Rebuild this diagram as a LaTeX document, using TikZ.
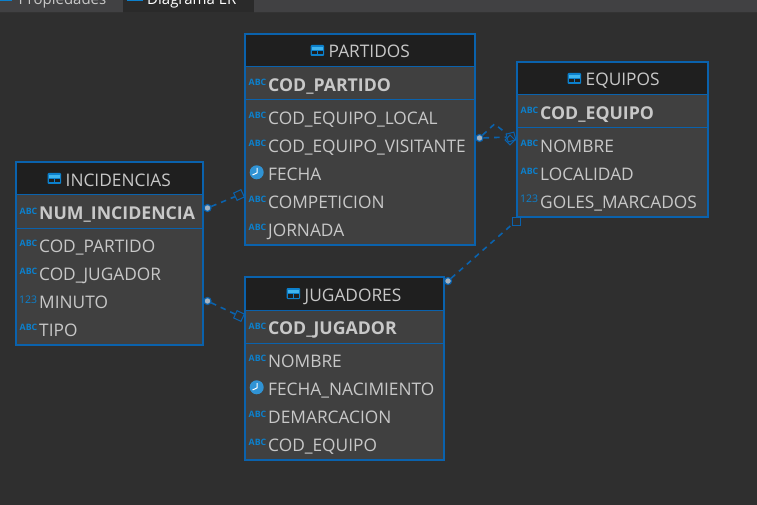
\documentclass[tikz,border=0pt]{standalone}
\usepackage{fontspec}
\setmainfont{Open Sans}
\definecolor{bgc}{HTML}{2F2F2F}
\definecolor{barc}{HTML}{414143}
\definecolor{tabc}{HTML}{2A2A2A}
\definecolor{boxc}{HTML}{404040}
\definecolor{headc}{HTML}{1F1F1F}
\definecolor{linec}{HTML}{0A62AD}
\definecolor{iconc}{HTML}{0C80CC}
\definecolor{textc}{HTML}{C8C8C8}
\definecolor{cellc}{HTML}{3FB4EE}
\definecolor{dotc}{HTML}{A4B2C0}
\tikzset{
  tablebody/.style={draw=linec,line width=2pt,fill=boxc,inner sep=0pt,outer sep=0pt,anchor=north west},
  headbar/.style={fill=headc,inner sep=0pt,outer sep=0pt,anchor=north west},
  rowtext/.style={text=textc,inner sep=0pt,anchor=base west,font=\fontsize{17.3}{20}\selectfont},
  pktext/.style={rowtext,font=\fontsize{17.7}{20}\selectfont\bfseries},
  titletext/.style={rowtext,anchor=base west},
  abcicon/.style={text=iconc,inner sep=0pt,anchor=base west,font=\fontsize{8.8}{9}\selectfont\bfseries},
  numicon/.style={text=iconc,inner sep=0pt,anchor=base west,font=\fontsize{10.5}{11}\selectfont},
  clockicon/.style={circle,fill=iconc!85!white,minimum size=14pt,inner sep=0pt},
  reltail/.style={circle,fill=dotc,draw=linec,line width=1.2pt,minimum size=7pt,inner sep=0pt},
  relhead/.style={draw=linec,line width=1pt,minimum size=8pt,inner sep=0pt},
  relline/.style={draw=linec,line width=1.6pt,dash pattern=on 5.5pt off 5pt},
  tabtext/.style={inner sep=0pt,anchor=base west,font=\fontsize{15}{18}\selectfont},
}
% x1 y1 x2 y2 name title pk
\newcommand{\erbox}[7]{%
  \pgfmathsetlengthmacro{\bw}{(#3-#1)*1pt}%
  \pgfmathsetlengthmacro{\bh}{(#4-#2)*1pt}%
  \pgfmathsetlengthmacro{\hw}{(#3-#1-2)*1pt}%
  \node[tablebody,minimum width=\bw,minimum height=\bh] (#5) at (#1,#2) {};
  \node[headbar,minimum width=\hw,minimum height=32pt] (#5-head) at (#1+1,#2+1) {};
  \draw[linec,line width=1pt] (#1,#2+33) -- (#3,#2+33);
  \draw[linec,line width=1pt] (#1,#2+66) -- (#3,#2+66);
  \node[abcicon] (#5-pkicon) at (#1+3.5,#2+52) {ABC};
  \node[pktext] (#5-pk) at (#1+23,#2+57.8) {#7};
}
\newcommand{\ertitle}[4]{% name xicon y title
  \fill[iconc,rounded corners=1pt] (#2,#3-5.5) rectangle (#2+13.5,#3+5.5);
  \fill[cellc] (#2+1,#3-3.5) rectangle (#2+12.5,#3-.5);
  \fill[headc] (#2+1,#3+.5) rectangle (#2+6.2,#3+4);
  \fill[headc] (#2+7.2,#3+.5) rectangle (#2+12.5,#3+4);
  \node[titletext] (#1-title) at (#2+18,#3+7.5) {#4};
}
\newcommand{\abcrow}[4]{% name x y text
  \node[abcicon] (#1-icon) at (#2+3.5,#3+.5) {ABC};
  \node[rowtext] (#1) at (#2+23,#3+6.5) {#4};
}
\newcommand{\numrow}[4]{%
  \node[numicon] (#1-icon) at (#2+3,#3+1) {123};
  \node[rowtext] (#1) at (#2+23,#3+6.5) {#4};
}
\newcommand{\clockrow}[4]{%
  \node[clockicon] (#1-icon) at (#2+11.7,#3-1.7) {};
  \draw[white,line width=1pt] (#2+12.2,#3-6) -- (#2+12.2,#3-1.2) -- (#2+7.5,#3+1);
  \node[rowtext] (#1) at (#2+23,#3+6.5) {#4};
}
\begin{document}
\begin{tikzpicture}[x=1pt,y=-1pt]
\useasboundingbox (0,0) rectangle (757,505);
\fill[bgc] (0,0) rectangle (757,505);
% tab bar
\fill[barc] (0,0) rectangle (757,12);
\fill[tabc] (123,0) rectangle (254,12);
\draw[black!60!gray,line width=.6pt] (0,12.3) -- (123,12.3) (254,12.3) -- (757,12.3);
\begin{scope}
\clip (0,0) rectangle (757,12);
\fill[iconc] (0,-4) rectangle (12,1.5);
\fill[iconc] (127,-4) rectangle (143,1.5);
\node[tabtext,text=textc] (tabprops) at (18.5,4.5) {Propiedades};
\node[tabtext,text=white] (tabdiag) at (147,4.5) {Diagrama ER};
\end{scope}
% PARTIDOS
\erbox{245}{34}{475}{245}{partidos}{PARTIDOS}{COD\_PARTIDO}
\ertitle{partidos}{310.5}{50.5}{PARTIDOS}
\abcrow{p1}{245}{118}{COD\_EQUIPO\_LOCAL}
\abcrow{p2}{245}{146}{COD\_EQUIPO\_VISITANTE}
\clockrow{p3}{245}{174}{FECHA}
\abcrow{p4}{245}{202}{COMPETICION}
\abcrow{p5}{245}{230}{JORNADA}
% EQUIPOS
\erbox{517}{62}{708}{217}{equipos}{EQUIPOS}{COD\_EQUIPO}
\ertitle{equipos}{567.5}{78.5}{EQUIPOS}
\abcrow{e1}{517}{146}{NOMBRE}
\abcrow{e2}{517}{174}{LOCALIDAD}
\numrow{e3}{517}{202}{GOLES\_MARCADOS}
% INCIDENCIAS
\erbox{16}{162}{203}{345}{incidencias}{INCIDENCIAS}{NUM\_INCIDENCIA}
\ertitle{incidencias}{47.5}{178.5}{INCIDENCIAS}
\abcrow{i1}{16}{246}{COD\_PARTIDO}
\abcrow{i2}{16}{274}{COD\_JUGADOR}
\numrow{i3}{16}{302}{MINUTO}
\abcrow{i4}{16}{330}{TIPO}
% JUGADORES
\erbox{245}{277}{444}{460}{jugadores}{JUGADORES}{COD\_JUGADOR}
\ertitle{jugadores}{286.5}{293.5}{JUGADORES}
\abcrow{j1}{245}{361}{NOMBRE}
\clockrow{j2}{245}{389}{FECHA\_NACIMIENTO}
\abcrow{j3}{245}{417}{DEMARCACION}
\abcrow{j4}{245}{445}{COD\_EQUIPO}
% relation ends
\node[reltail] (t1) at (207.5,208) {};
\node[relhead,rotate=25] (h1) at (239,195) {};
\node[reltail] (t2) at (207.5,301) {};
\node[relhead,rotate=-25] (h2) at (239,316) {};
\node[reltail] (t3) at (479.5,138) {};
\node[relhead,rotate=15] (h3) at (511,137) {};
\node[relhead,rotate=45,minimum size=7pt] (h3b) at (510,140) {};
\coordinate (k3) at (494.5,124);
\node[reltail] (t4) at (448,281) {};
\node[relhead,rotate=0] (h4) at (516,221) {};
% connectors
\draw[relline] (t1) -- (h1);
\draw[relline] (t2) -- (h2);
\draw[relline] (t3) -- (h3);
\draw[relline] (t3) -- (k3) -- (h3);
\draw[relline] (t4) -- (h4);
\end{tikzpicture}
\end{document}
